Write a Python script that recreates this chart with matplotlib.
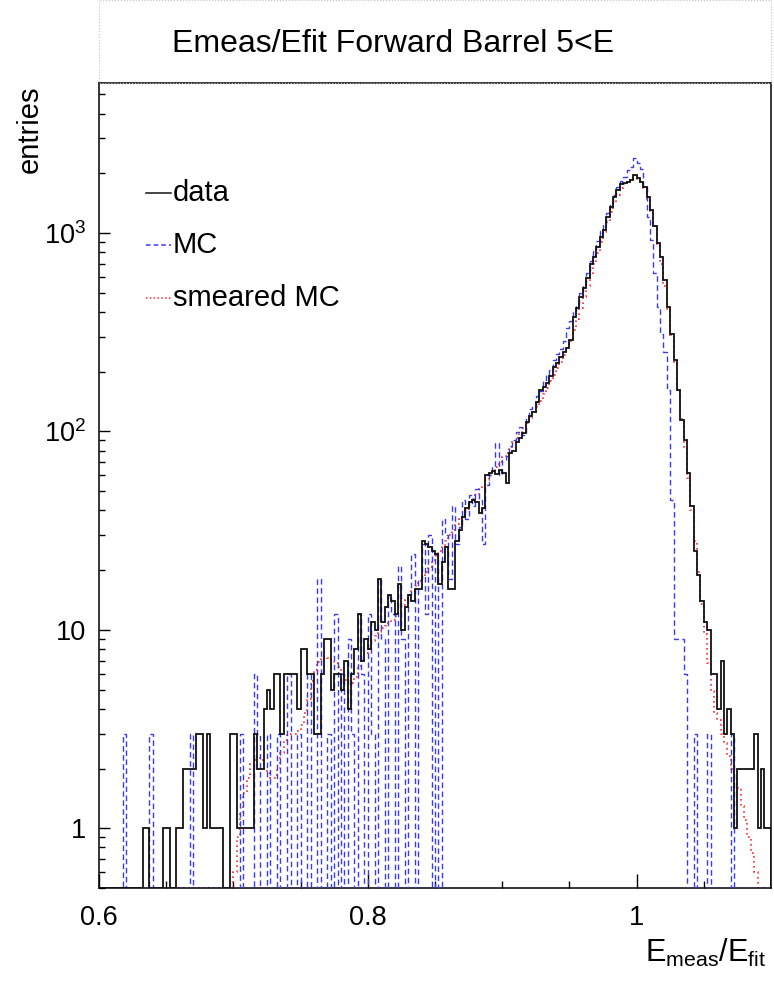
import numpy as np
import matplotlib
matplotlib.use("Agg")
import matplotlib.pyplot as plt
from matplotlib.lines import Line2D
from matplotlib.patches import Rectangle

plt.rcParams['font.family'] = ['Liberation Sans', 'DejaVu Sans']

# ── histogram data: 200 bins of 0.0025 between 0.6 and 1.1 ──────────
X_LO, X_HI, NBINS = 0.6, 1.1, 200
YMIN, YMAX = 0.5, 5700

data = [
    0, 0, 0, 0, 0, 0, 0, 0, 0, 0, 0, 0, 0, 1, 1, 0, 0, 0, 0, 1,
    1, 0, 0, 1, 1, 2, 2, 2, 2, 3, 3, 1, 3, 1, 1, 1, 1, 0, 0, 3,
    3, 1, 1, 1, 1, 1, 3, 2, 2, 4, 5, 4, 6, 6, 3, 6, 6, 6, 6, 4,
    8, 8, 6, 6, 3, 3, 6, 9, 9, 5, 6, 6, 5, 7, 4, 6, 8, 12, 7, 9,
    8, 11, 10, 18, 11, 13, 15, 14, 12, 17, 10, 13, 15, 14, 16, 16, 28, 27, 26, 25,
    24, 17, 22, 26, 16, 16, 28, 32, 37, 41, 44, 45, 44, 39, 41, 60, 62, 63, 61, 64,
    62, 55, 78, 80, 88, 93, 98, 112, 120, 125, 140, 162, 168, 175, 190, 210, 222, 237, 250, 262,
    290, 377, 420, 475, 530, 590, 700, 760, 850, 960, 1040, 1200, 1350, 1520, 1650, 1760, 1790, 1800, 1850, 1970,
    1900, 1800, 1700, 1510, 1300, 1090, 890, 760, 580, 425, 310, 230, 162, 114, 90, 62, 42, 25, 19, 14,
    11, 10, 6, 6, 4, 7, 3, 4, 3, 1, 2, 2, 2, 2, 2, 3, 1, 2, 1, 1,
]

mc = [
    0, 0, 0, 0, 0, 0, 0, 3, 0, 0, 0, 0, 0, 0, 0, 3, 0, 0, 0, 0,
    0, 0, 0, 0, 0, 0, 0, 3, 0, 0, 0, 0, 0, 0, 0, 0, 0, 0, 0, 0,
    0, 0, 3, 0, 0, 0, 6, 3, 0, 0, 3, 0, 0, 3, 0, 0, 6, 0, 0, 3,
    0, 0, 6, 0, 0, 18, 0, 0, 3, 0, 12, 0, 6, 0, 9, 3, 0, 12, 6, 0,
    12, 3, 0, 18, 9, 0, 15, 12, 0, 21, 9, 0, 15, 24, 0, 18, 27, 12, 30, 0,
    24, 0, 36, 30, 18, 42, 27, 33, 45, 36, 48, 42, 51, 45, 27, 54, 60, 66, 87, 60,
    72, 75, 84, 90, 99, 105, 96, 117, 129, 135, 150, 159, 180, 192, 204, 228, 246, 261, 285, 333,
    360, 405, 438, 498, 552, 630, 720, 810, 915, 1020, 1110, 1260, 1410, 1560, 1710, 1830, 1920, 2070, 2160, 2390,
    2250, 2100, 1700, 1200, 920, 630, 425, 310, 250, 162, 45, 9, 9, 9, 6, 0, 0, 3, 0, 0,
    0, 3, 0, 0, 0, 0, 0, 0, 3, 0, 0, 0, 0, 0, 0, 0, 0, 0, 0, 0,
]

smeared_mc = [
    0, 0, 0, 0, 0, 0, 0, 0, 0, 0, 0, 0, 0, 0, 0, 0, 0, 0, 0, 0,
    0, 0, 0, 0, 0, 0, 0, 0, 0, 0, 0, 0, 0, 0, 0, 0, 0, 0, 0, 0,
    0.6, 0.9, 1.2, 1.5, 1.8, 2.1, 2.2, 2.3, 2.2, 2.0, 1.9, 1.8, 1.8, 2.0, 2.4, 2.8, 3.0, 3.0, 3.0, 3.1,
    3.3, 3.8, 4.5, 5.5, 6.3, 6.9, 7.2, 7.3, 7.2, 7.0, 6.8, 6.5, 6.0, 5.6, 5.4, 5.4, 5.8, 6.4, 7.0, 7.6,
    8.2, 8.8, 9.3, 9.8, 10.2, 10.5, 10.8, 11.2, 11.8, 12.5, 13.3, 14.2, 15.0, 15.8, 16.7, 17.6, 18.5, 19.5, 20.7, 22,
    23.5, 25, 26.5, 28, 30, 32, 34, 36, 38, 40.5, 43, 45.5, 48, 51, 54, 57, 60, 63, 66, 70,
    74, 78, 83, 88, 93, 98, 104, 110, 117, 125, 133, 143, 154, 166, 179, 193, 208, 224, 242, 262,
    285, 325, 370, 420, 475, 540, 615, 700, 795, 900, 1010, 1140, 1280, 1420, 1560, 1680, 1770, 1840, 1880, 1890,
    1860, 1790, 1660, 1490, 1290, 1080, 880, 700, 540, 410, 305, 225, 162, 115, 82, 58, 40, 28, 19.5, 13.5,
    9.5, 6.8, 4.9, 3.8, 3.5, 3.0, 2.7, 2.3, 2.0, 1.8, 1.6, 1.3, 1.1, 0.9, 0.75, 0.6, 0.45, 0, 0, 0,
]

BLACK = "#111111"
BLUE = "#3a3aee"
RED = "#ff2a2a"


def _floor(vals):
    # ROOT draws empty bins on the bottom of the frame
    v = np.asarray(vals, dtype=float)
    return np.where(v > 0, v, YMIN)


W, H, DPI = 774, 988, 100
fig = plt.figure(figsize=(W / DPI, H / DPI), dpi=DPI)
fig.patch.set_facecolor("white")
ax = fig.add_axes([99 / W, 1 - 888 / H, 672 / W, 805 / H])

edges = np.linspace(X_LO, X_HI, NBINS + 1)
ax.stairs(_floor(smeared_mc), edges, color=RED, lw=1.2, ls=(0, (1, 2)), zorder=2)
ax.stairs(_floor(mc), edges, color=BLUE, lw=1.0, ls=(0, (4, 2.5)), zorder=3)
ax.stairs(_floor(data), edges, color=BLACK, lw=1.3, zorder=4)

ax.set_yscale("log")
ax.set_xlim(X_LO, X_HI)
ax.set_ylim(YMIN, YMAX)

ax.set_xticks([0.6, 0.8, 1.0])
ax.set_xticklabels(["0.6", "0.8", "1"])
ax.set_xticks([0.65, 0.7, 0.75, 0.85, 0.9, 0.95, 1.05], minor=True)
ax.set_yticks([1, 10, 100, 1000])
ax.set_yticklabels(["1", "10", r"$\mathregular{10^{2}}$", r"$\mathregular{10^{3}}$"])
ax.yaxis.set_minor_locator(matplotlib.ticker.LogLocator(subs=np.arange(2, 10)))
ax.yaxis.set_minor_formatter(matplotlib.ticker.NullFormatter())

ax.tick_params(which="both", direction="in", top=False, right=False, labelsize=19.5, colors="black")
ax.tick_params(axis="x", which="major", length=10, width=1, pad=12)
ax.tick_params(axis="x", which="minor", length=5, width=1)
ax.tick_params(axis="y", which="major", length=8, width=1, pad=9)
ax.tick_params(axis="y", which="minor", length=4, width=1)
for s in ax.spines.values():
    s.set_linewidth(1.1)
    s.set_color("black")

# title pave
fig.add_artist(Rectangle((99 / W, 1 - 83 / H), 672 / W, 83 / H, transform=fig.transFigure,
                         fill=False, ec="#c0c0c0", lw=0.8, ls=":"))
fig.text(393 / W, 1 - 44 / H, "Emeas/Efit Forward Barrel 5<E", ha="center", va="center", fontsize=23)

# axis titles
fig.text(30 / W, 1 - 129 / H, "entries", rotation=90, ha="center", va="center", fontsize=21)
fig.text(766 / W, 1 - 962 / H, r"$\mathregular{E_{meas}/E_{fit}}$", ha="right", va="baseline", fontsize=22)

# legend
legend_rows = [("data", BLACK, "-", 193), ("MC", BLUE, (0, (3, 2)), 245), ("smeared MC", RED, (0, (1, 1.5)), 298)]
for label, col, ls, ypx in legend_rows:
    fig.add_artist(Line2D([146 / W, 171 / W], [1 - ypx / H] * 2, transform=fig.transFigure,
                          color=col, lw=1.1, ls=ls))
    fig.text(173 / W, 1 - ypx / H, label, ha="left", va="center", fontsize=21)

fig.savefig("out.png", dpi=DPI, facecolor="white")
